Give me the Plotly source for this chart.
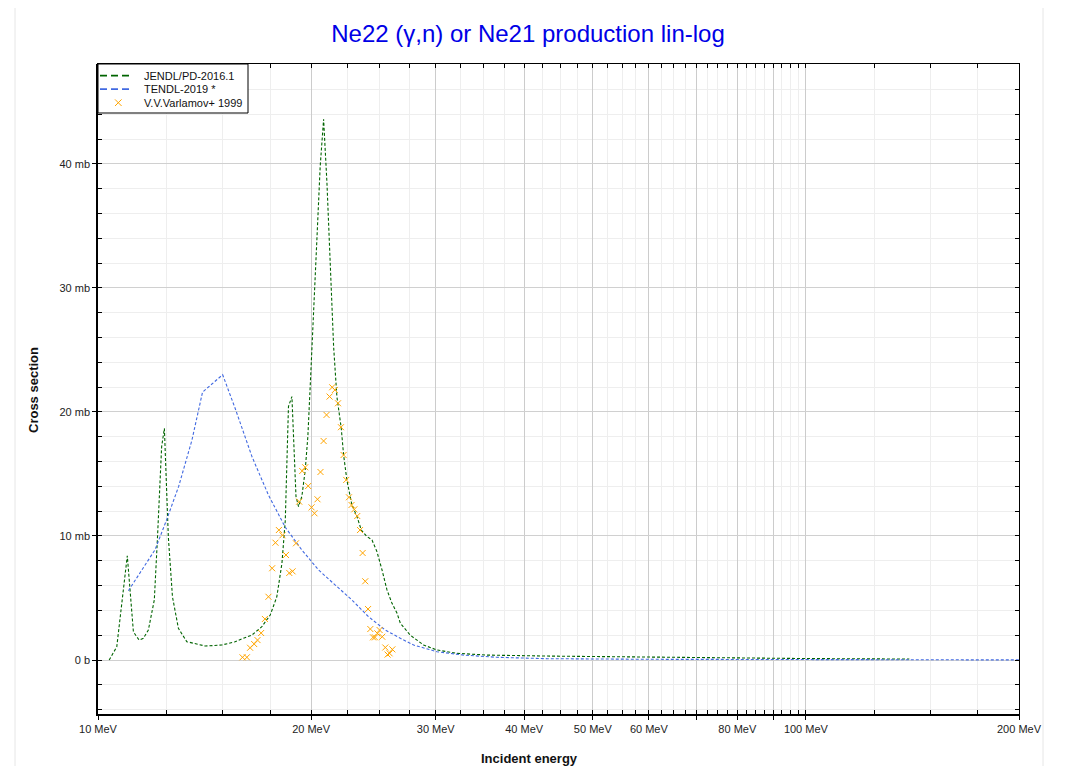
import plotly.graph_objects as go

# ---------------- data ----------------
jendl_e = [10.37, 10.63, 11.0, 11.22, 11.43, 11.59, 11.78, 12.01, 12.13, 12.30, 12.41, 12.48,
           12.57, 12.74, 12.99, 13.35, 14.17, 14.96, 15.62, 16.05, 16.50, 17.04, 17.51, 17.89,
           18.19, 18.39, 18.49, 18.58, 18.79, 18.89, 19.04, 19.20, 19.41, 19.62, 19.79, 19.94,
           20.16, 20.38, 20.60, 20.83, 21.06, 21.29, 21.52, 21.75, 22.06, 22.23, 22.47, 22.84,
           23.22, 23.55, 23.99, 24.38, 24.78, 25.19, 25.46, 25.60, 26.02, 26.45, 26.74, 27.62,
           28.84, 30.13, 32.16, 35.46, 43.1, 59.7, 75.8, 100.0, 140.0]
jendl_y = [0.0, 1.07, 8.41, 2.28, 1.61, 1.75, 2.42, 4.84, 9.68, 17.2, 18.68, 15.05,
           9.95, 5.1, 2.55, 1.48, 1.13, 1.21, 1.48, 1.75, 2.02, 2.69, 3.63, 5.1,
           7.8, 11.29, 16.67, 20.43, 21.24, 17.5, 13.2, 12.37, 13.2, 15.3, 18.0, 22.04,
           27.4, 33.9, 39.8, 43.6, 38.4, 31.7, 25.27, 21.23, 18.7, 16.53, 14.5, 12.5,
           11.56, 10.48, 9.95, 9.68, 8.73, 7.26, 6.31, 5.65, 4.57, 3.77, 2.96, 2.0,
           1.21, 0.81, 0.54, 0.40, 0.32, 0.22, 0.16, 0.12, 0.08]

tendl_e = [11.04, 12.04, 12.5, 13.0, 13.57, 14.05, 15.0, 15.62, 16.5, 17.41, 18.39, 19.41,
           20.49, 21.63, 22.84, 24.11, 25.05, 25.46, 26.74, 27.92, 30.13, 32.85, 36.6, 43.1,
           60.0, 100.0, 200.0]
tendl_y = [5.59, 8.9, 11.3, 14.0, 17.7, 21.6, 23.0, 20.3, 16.4, 13.3, 10.7, 8.87,
           7.26, 6.05, 4.84, 3.49, 2.74, 2.42, 1.75, 1.21, 0.67, 0.40, 0.22, 0.11,
           0.06, 0.03, 0.01]

varl_e = [16.00, 16.23, 16.40, 16.62, 16.80, 17.00, 17.21, 17.41, 17.62, 17.81, 18.01, 18.22,
          18.43, 18.63, 18.83, 19.04, 19.24, 19.43, 19.62, 19.81, 20.03, 20.22, 20.42, 20.62,
          20.83, 21.03, 21.24, 21.42, 21.61, 21.83, 22.04, 22.23, 22.42, 22.62, 22.81, 23.02,
          23.24, 23.45, 23.65, 23.85, 24.07, 24.25, 24.46, 24.62, 24.81, 24.99, 25.21, 25.46,
          25.65, 25.82, 26.05]
varl_y = [0.22, 0.22, 0.99, 1.29, 1.61, 2.18, 3.31, 5.10, 7.40, 9.46, 10.48, 10.06,
          8.47, 7.02, 7.15, 9.41, 12.77, 15.24, 15.54, 14.03, 12.31, 11.83, 12.96, 15.16,
          17.66, 19.76, 21.24, 21.99, 21.77, 20.70, 18.77, 16.53, 14.52, 13.12, 12.5, 12.15,
          11.61, 10.48, 8.63, 6.35, 4.11, 2.50, 1.83, 1.83, 2.15, 2.42, 1.88, 1.01,
          0.44, 0.54, 0.86]

series_names = ["JENDL/PD-2016.1", "TENDL-2019 *", "V.V.Varlamov+ 1999"]
series_colors = ["#006400", "#4169e1", "#ffa500"]

x_major = [10, 20, 30, 40, 50, 60, 70, 80, 90, 100, 200]
x_major_text = ["10 MeV", "20 MeV", "30 MeV", "40 MeV", "50 MeV", "60 MeV", "", "80 MeV", "",
                "100 MeV", "200 MeV"]
x_minor = [12.5, 15, 17.5, 22.5, 25, 27.5, 32.5, 35, 37.5, 42.5, 45, 47.5, 52.5, 55, 57.5,
           62.5, 65, 67.5, 72.5, 75, 77.5, 82.5, 85, 87.5, 92.5, 95, 97.5, 125, 150, 175]
y_major = [0, 10, 20, 30, 40]
y_major_text = ["0 b", "10 mb", "20 mb", "30 mb", "40 mb"]
y_minor = [-4, -2, 2, 4, 6, 8, 12, 14, 16, 18, 22, 24, 26, 28, 32, 34, 36, 38, 42, 44, 46, 48]

X_RANGE = [1.0, 2.30103]
Y_RANGE = [-4.35, 48.05]

# ---------------- geometry helpers (page px -> paper) ----------------
W, H = 1051, 758
ML, MR, MT, MB = 90, 40, 56, 52
PX0, PY0 = 8 + ML, 8 + MT            # plot area origin on the page
PW, PH = W - ML - MR, H - MT - MB


def px(sx):
    return (sx - PX0) / PW


def py(sy):
    return (PY0 + PH - sy) / PH


FONT = "Liberation Sans, Arial, sans-serif"

fig = go.Figure()
fig.add_trace(go.Scatter(x=jendl_e, y=jendl_y, mode="lines", name=series_names[0],
                         line=dict(color=series_colors[0], width=1.1, dash="3px,2px"),
                         showlegend=False))
fig.add_trace(go.Scatter(x=tendl_e, y=tendl_y, mode="lines", name=series_names[1],
                         line=dict(color=series_colors[1], width=1.1, dash="3px,2px"),
                         showlegend=False))
fig.add_trace(go.Scatter(x=varl_e, y=varl_y, mode="markers", name=series_names[2],
                         marker=dict(symbol="x-thin", size=6, color=series_colors[2],
                                     line=dict(color=series_colors[2], width=1)),
                         showlegend=False))
# dummy trace for the overlay (mirror tick) axes
fig.add_trace(go.Scatter(x=[20], y=[0], xaxis="x2", yaxis="y2", mode="markers",
                         marker=dict(opacity=0), showlegend=False, hoverinfo="skip"))

tick_font = dict(family=FONT, size=11, color="#222")

fig.update_layout(
    width=W, height=H,
    margin=dict(l=ML, r=MR, t=MT, b=MB),
    paper_bgcolor="white", plot_bgcolor="white",
    title=dict(text="Ne22 (γ,n) or Ne21 production lin-log", x=(528 - 8) / W, xanchor="center",
               y=1 - (34 - 8) / H, yanchor="middle",
               font=dict(family=FONT, size=24, color="#0000e6")),
    showlegend=False,
    xaxis=dict(type="log", range=X_RANGE, tickmode="array", tickvals=x_major,
               ticktext=x_major_text, ticks="outside", ticklen=4, tickcolor="black",
               showline=True, linecolor="black", linewidth=1.5,
               showgrid=True, gridcolor="#cccccc", gridwidth=1,
               minor=dict(tickvals=x_minor, showgrid=True, gridcolor="#eeeeee", ticks=""),
               tickfont=tick_font, zeroline=False),
    yaxis=dict(range=Y_RANGE, tickmode="array", tickvals=y_major, ticktext=y_major_text,
               ticks="outside", ticklen=4, tickcolor="black",
               showline=True, linecolor="black", linewidth=1.5,
               showgrid=True, gridcolor="#d0d0d0", gridwidth=1,
               minor=dict(tickvals=y_minor, showgrid=True, gridcolor="#eeeeee", ticks=""),
               tickfont=tick_font, zeroline=False),
    xaxis2=dict(type="log", range=X_RANGE, overlaying="x", side="top", anchor="y",
                tickmode="array", tickvals=x_major, showticklabels=False,
                ticks="inside", ticklen=4, tickcolor="black", mirror="allticks",
                showline=True, linecolor="black", linewidth=1, showgrid=False,
                minor=dict(tickvals=x_minor, ticks="inside", ticklen=4, tickcolor="black",
                           showgrid=False),
                zeroline=False),
    yaxis2=dict(range=Y_RANGE, overlaying="y", side="right", anchor="x",
                tickmode="array", tickvals=y_major, showticklabels=False,
                ticks="inside", ticklen=4, tickcolor="black", mirror="allticks",
                showline=True, linecolor="black", linewidth=1, showgrid=False,
                minor=dict(tickvals=y_minor, ticks="inside", ticklen=4, tickcolor="black",
                           showgrid=False),
                zeroline=False),
)

# axis titles
fig.add_annotation(text="<b>Incident energy</b>", xref="paper", yref="paper",
                   x=px(529), y=py(758), showarrow=False, xanchor="center", yanchor="middle",
                   font=dict(family=FONT, size=13, color="#111"))
fig.add_annotation(text="<b>Cross section</b>", xref="paper", yref="paper",
                   x=px(34), y=py(390), showarrow=False, textangle=-90,
                   xanchor="center", yanchor="middle",
                   font=dict(family=FONT, size=13, color="#111"))

# faint outer panel border
fig.add_shape(type="rect", xref="paper", yref="paper",
              x0=px(15), x1=px(1043), y0=py(800), y1=py(5),
              line=dict(color="#e6e6e6", width=1), layer="below")

# ---------------- legend (drawn by hand for the compact layout) ----------------
fig.add_shape(type="rect", xref="paper", yref="paper",
              x0=px(98), x1=px(248), y0=py(113), y1=py(64),
              line=dict(color="black", width=1), fillcolor="white", layer="above")
leg_y = [75.7, 89.2, 102.7]
for i in range(2):
    fig.add_shape(type="line", xref="paper", yref="paper",
                  x0=px(100), x1=px(130), y0=py(leg_y[i]), y1=py(leg_y[i]),
                  line=dict(color=series_colors[i], width=1.8, dash="7px,4px"), layer="above")
cx, cy, r = 118.3, leg_y[2], 3.3
fig.add_shape(type="line", xref="paper", yref="paper",
              x0=px(cx - r), x1=px(cx + r), y0=py(cy - r), y1=py(cy + r),
              line=dict(color=series_colors[2], width=1), layer="above")
fig.add_shape(type="line", xref="paper", yref="paper",
              x0=px(cx - r), x1=px(cx + r), y0=py(cy + r), y1=py(cy - r),
              line=dict(color=series_colors[2], width=1), layer="above")
for i in range(3):
    fig.add_annotation(text=series_names[i], xref="paper", yref="paper",
                       x=px(142), y=py(leg_y[i]), showarrow=False,
                       xanchor="left", yanchor="middle",
                       font=dict(family=FONT, size=11, color="#111"))

fig.write_html("out.html")
